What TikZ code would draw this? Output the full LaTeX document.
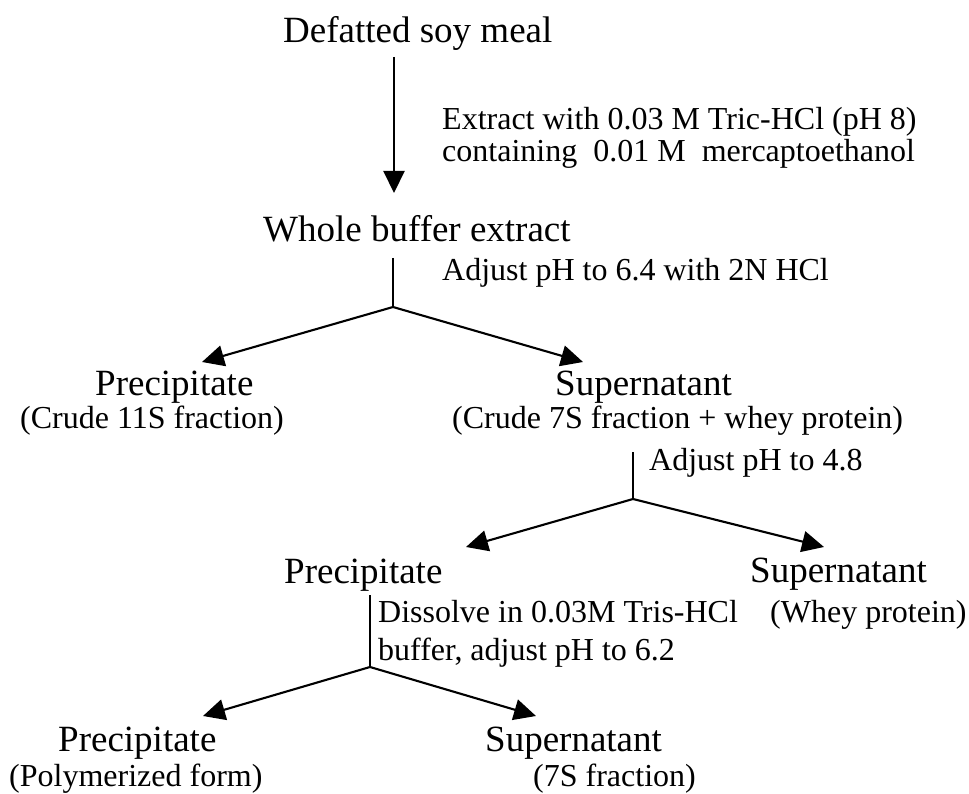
\documentclass[tikz,border=0pt]{standalone}
\usepackage{fontspec}
\setmainfont{Liberation Serif}
\usetikzlibrary{arrows.meta}
\tikzset{
  big/.style={anchor=base west, inner sep=0pt, font=\fontsize{37}{40}\selectfont},
  small/.style={anchor=base west, inner sep=0pt, font=\fontsize{32}{36}\selectfont},
  conn/.style={line width=2.1pt},
  arr/.style={line width=2.1pt, -{Triangle[length=22pt,width=21pt]}}
}
\begin{document}
\begin{tikzpicture}[x=1pt,y=-1pt]
\useasboundingbox (0,0) rectangle (969,794);
% texts
\node[big] (dsm) at (283,43) {Defatted soy meal};
\node[small] (ex1) at (442,130) {Extract with 0.03 M Tric-HCl (pH 8)};
\node[small] (ex2) at (442,162) {containing\ \ 0.01 M\ \ mercaptoethanol};
\node[big] (wbe) at (263,242) {Whole buffer extract};
\node[small] (adj1) at (442,280) {Adjust pH to 6.4 with 2N HCl};
\node[big] (p1) at (95,395) {Precipitate};
\node[small] (p1s) at (20,428) {(Crude 11S fraction)};
\node[big] (s1) at (555,395) {Supernatant};
\node[small] (s1s) at (452,428) {(Crude 7S fraction + whey protein)};
\node[small] (adj2) at (649,470) {Adjust pH to 4.8};
\node[big] (p2) at (284,583) {Precipitate};
\node[big] (s2) at (750,582) {Supernatant};
\node[small] (s2s) at (770,622) {(Whey protein)};
\node[small] (dis1) at (378,622) {Dissolve in 0.03M Tris-HCl};
\node[small] (dis2) at (378,660) {buffer, adjust pH to 6.2};
\node[big] (p3) at (58,751) {Precipitate};
\node[small] (p3s) at (9,786) {(Polymerized form)};
\node[big] (s3) at (485,751) {Supernatant};
\node[small] (s3s) at (533,786) {(7S fraction)};
% connector points
\coordinate (a0) at (394,57);
\coordinate (a0t) at (394,193);
\coordinate (b0) at (393,258);
\coordinate (b1) at (393,307);
\coordinate (b1l) at (202,362);
\coordinate (b1r) at (583,362);
\coordinate (c0) at (633,452);
\coordinate (c1) at (633,499);
\coordinate (c1l) at (466,547);
\coordinate (c1r) at (824,547);
\coordinate (d0) at (370,595);
\coordinate (d1) at (370,667);
\coordinate (d1l) at (203,716);
\coordinate (d1r) at (536,716);
% connectors
\draw[arr] (a0) -- (a0t);
\draw[conn] (b0) -- (b1);
\draw[arr] (b1) -- (b1l);
\draw[arr] (b1) -- (b1r);
\draw[conn] (c0) -- (c1);
\draw[arr] (c1) -- (c1l);
\draw[arr] (c1) -- (c1r);
\draw[conn] (d0) -- (d1);
\draw[arr] (d1) -- (d1l);
\draw[arr] (d1) -- (d1r);
\end{tikzpicture}
\end{document}
